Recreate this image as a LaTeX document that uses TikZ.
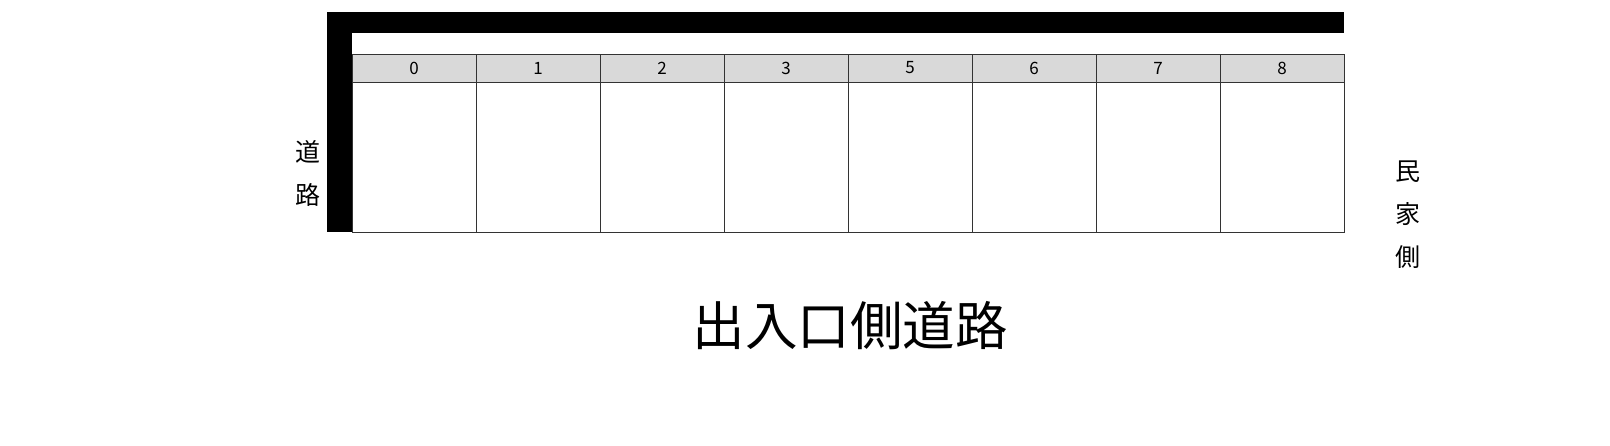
\documentclass[tikz,border=0pt]{standalone}
\usepackage{fontspec}
\newfontfamily\jp{Noto Sans CJK JP}
\begin{document}
\begin{tikzpicture}[x=1pt,y=-1pt,
  cellbox/.style={draw=black!80,line width=0.8pt},
  headbox/.style={cellbox,fill=black!15},
  side/.style={font=\jp\fontsize{25}{43}\selectfont,align=center,inner sep=0pt}]
\useasboundingbox (0,0) rectangle (1610,446);
% wall of the road side
\fill (327,12) rectangle (1344,33);
\fill (327,33) rectangle (352,232);
% parking spaces
\foreach \n [count=\i from 0] in {0,1,2,3,5,6,7,8} {
  \draw[headbox] (352+124*\i,54) rectangle (352+124*\i+124,82);
  \draw[cellbox] (352+124*\i,82) rectangle (352+124*\i+124,232);
  \node[font=\jp\fontsize{17}{19}\selectfont] (h\n) at (352+124*\i+62,68) {\n};
}
\node[side] (road) at (308,173) {道\\路};
\node[side] (house) at (1408,215) {民\\家\\側};
\node[font=\jp\fontsize{52.5}{60}\selectfont,inner sep=0pt] (title) at (850,326) {出入口側道路};
\end{tikzpicture}
\end{document}
